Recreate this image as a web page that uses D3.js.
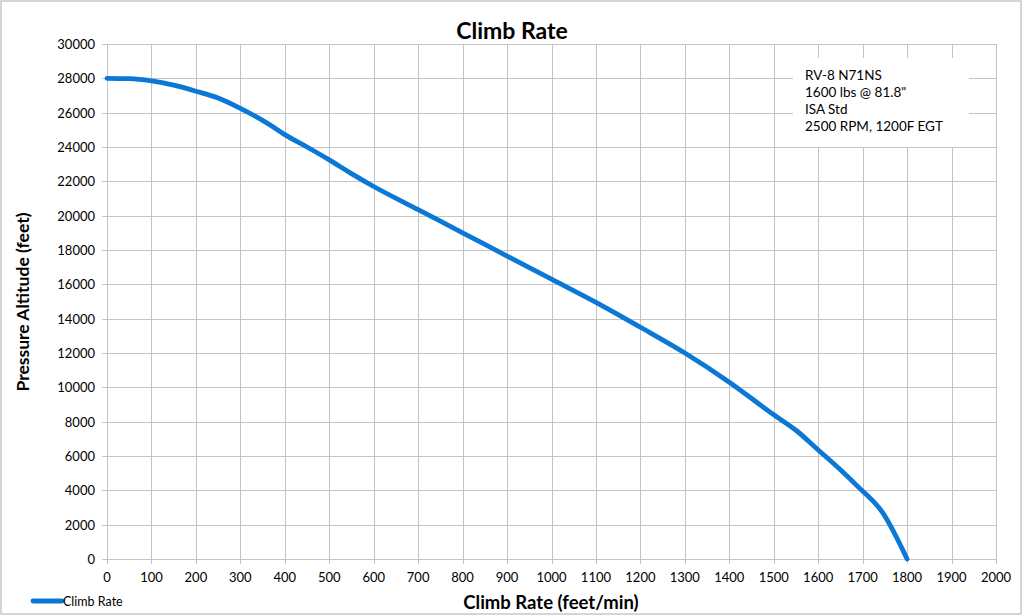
<!DOCTYPE html>
<html><head><meta charset="utf-8">
<script src="https://cdn.jsdelivr.net/npm/d3@7"></script>
<style>body{margin:0;background:#fff}svg{display:block}text{font-family:Lato,"Open Sans",sans-serif;fill:#000}</style>
</head><body><svg id="c" width="1024" height="616"></svg>
<script>
const climbRate = [0,50,100,150,200,250,300,350,375,400,450,500,550,600,700,800,900,1000,1100,1200,1300,1400,1500,1550,1600,1650,1690,1745,1800];
const altitude = [28000,27980,27850,27600,27250,26850,26250,25550,25150,24720,24000,23250,22450,21700,20350,19000,17650,16300,14950,13500,12000,10300,8400,7500,6350,5200,4200,2700,0];
const xTicks = d3.range(0,2001,100);
const yTicks = d3.range(0,30001,2000);
const noteLines = ["RV-8 N71NS","1600 lbs @ 81.8\"","ISA Std","2500 RPM, 1200F EGT"];
const seriesName = "Climb Rate";

const svg = d3.select("#c");
svg.append("rect").attr("x",1).attr("y",1).attr("width",1020).attr("height",613).attr("fill","#fff").attr("stroke","#c8c8c8").attr("stroke-width",1.5);
const L=107,R=996,T=44,B=559;
const x = d3.scaleLinear().domain([0,2000]).range([L,R]);
const y = d3.scaleLinear().domain([0,30000]).range([B,T]);
const grid = svg.append("g").attr("stroke","#c4c4c4").attr("stroke-width",1);
xTicks.forEach(t=>grid.append("line").attr("x1",Math.round(x(t))+0.5).attr("x2",Math.round(x(t))+0.5).attr("y1",T).attr("y2",B+5));
yTicks.forEach(t=>grid.append("line").attr("x1",L-5).attr("x2",R).attr("y1",Math.round(y(t))+0.5).attr("y2",Math.round(y(t))+0.5));

svg.append("rect").attr("x",793).attr("y",58).attr("width",176).attr("height",89).attr("fill","#fff");
noteLines.forEach((s,i)=>svg.append("text").attr("x",805).attr("y",80+i*17).attr("font-size",13.5).text(s));

svg.append("g").selectAll("text").data(yTicks).join("text")
  .attr("x",L-12).attr("y",d=>y(d)+5).attr("text-anchor","end").attr("font-size",13).text(d=>d);
svg.append("g").selectAll("text").data(xTicks).join("text")
  .attr("x",d=>x(d)).attr("y",B+23).attr("text-anchor","middle").attr("font-size",13).text(d=>d);

const line = d3.line().x((d,i)=>x(climbRate[i])).y((d,i)=>y(altitude[i])).curve(d3.curveMonotoneX);
svg.append("path").datum(climbRate).attr("d",line).attr("fill","none").attr("stroke","#0a78d4").attr("stroke-width",4.8).attr("stroke-linecap","round");

svg.append("text").attr("x",512).attr("y",39).attr("text-anchor","middle").attr("font-size",23).attr("font-weight","bold").text("Climb Rate");
svg.append("text").attr("transform","translate(29,302) rotate(-90)").attr("text-anchor","middle").attr("font-size",17.5).attr("font-weight","bold").text("Pressure Altitude (feet)");
svg.append("text").attr("x",551).attr("y",609).attr("text-anchor","middle").attr("font-size",18.5).attr("font-weight","bold").text("Climb Rate (feet/min)");
svg.append("line").attr("x1",33).attr("x2",62).attr("y1",601).attr("y2",601).attr("stroke","#0a78d4").attr("stroke-width",4.8).attr("stroke-linecap","round");
svg.append("text").attr("x",63).attr("y",606).attr("font-size",12.5).text(seriesName);
</script></body></html>
